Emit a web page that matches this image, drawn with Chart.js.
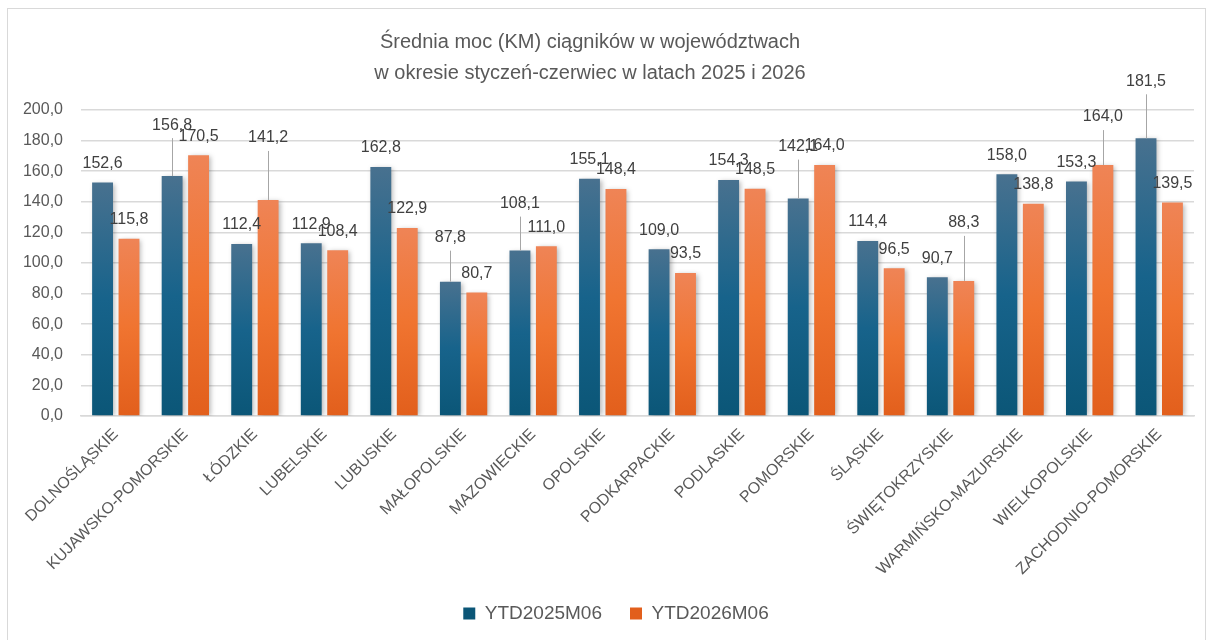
<!DOCTYPE html>
<html>
<head>
<meta charset="utf-8">
<script src="https://cdn.jsdelivr.net/npm/chart.js@4.4.1/dist/chart.umd.min.js"></script>
<style>
    html, body { margin: 0; padding: 0; background: #fff; }
    #frame { position: absolute; left: 7px; top: 8px; width: 1197px; height: 700px; border: 1.5px solid #d9d9d9; }
    #wrap { position: absolute; left: 0; top: 0; width: 1212px; height: 640px; }
</style>
</head>
<body>
<div id="frame"></div>
<div id="wrap"><canvas id="chart"></canvas></div>
<script>
const categories = ['DOLNOŚLĄSKIE', 'KUJAWSKO-POMORSKIE', 'ŁÓDZKIE', 'LUBELSKIE', 'LUBUSKIE', 'MAŁOPOLSKIE',
    'MAZOWIECKIE', 'OPOLSKIE', 'PODKARPACKIE', 'PODLASKIE', 'POMORSKIE', 'ŚLĄSKIE', 'ŚWIĘTOKRZYSKIE',
    'WARMIŃSKO-MAZURSKIE', 'WIELKOPOLSKIE', 'ZACHODNIO-POMORSKIE'];
const ytd2025 = [152.6, 156.8, 112.4, 112.9, 162.8, 87.8, 108.1, 155.1, 109.0, 154.3, 142.1, 114.4, 90.7, 158.0, 153.3, 181.5];
const ytd2026 = [115.8, 170.5, 141.2, 108.4, 122.9, 80.7, 111.0, 148.4, 93.5, 148.5, 164.0, 96.5, 88.3, 138.8, 164.0, 139.5];
const seriesNames = ['YTD2025M06', 'YTD2026M06'];
const titleLines = ['Średnia moc (KM) ciągników w województwach', 'w okresie styczeń-czerwiec w latach 2025 i 2026'];

// extra lift (px) for labels that Excel moved up with a leader line
const labelLift = [
    { 1: 32, 5: 25, 6: 28, 10: 33, 15: 38 },
    { 2: 43, 12: 39, 14: 29 }
];

const fmt = v => v.toFixed(1).replace('.', ',');

function barGradient(top, mid, bottom) {
    return ctx => {
        const chart = ctx.chart;
        const y = chart.scales.y;
        if (!y || ctx.type !== 'data' || !chart.chartArea) return mid;
        const yTop = y.getPixelForValue(ctx.raw);
        const yBase = y.getPixelForValue(0);
        if (!isFinite(yTop) || yTop === yBase) return mid;
        const g = chart.ctx.createLinearGradient(0, yTop, 0, yBase);
        g.addColorStop(0, top);
        g.addColorStop(0.5, mid);
        g.addColorStop(1, bottom);
        return g;
    };
}

const shadowPlugin = {
    id: 'barShadow',
    beforeDatasetsDraw(chart) {
        const c = chart.ctx;
        c.save();
        c.shadowColor = 'rgba(0,0,0,0.3)';
        c.shadowBlur = 5;
        c.shadowOffsetX = 2;
        c.shadowOffsetY = 1;
    },
    afterDatasetsDraw(chart) {
        chart.ctx.restore();
    }
};

const labelPlugin = {
    id: 'valueLabels',
    afterDraw(chart) {
        const c = chart.ctx;
        c.save();
        c.font = '16px "Liberation Sans", Arial, sans-serif';
        c.fillStyle = '#404040';
        c.textAlign = 'center';
        c.textBaseline = 'middle';
        chart.data.datasets.forEach((ds, di) => {
            const meta = chart.getDatasetMeta(di);
            meta.data.forEach((bar, i) => {
                const lift = labelLift[di][i] || 0;
                const ly = bar.y - 19 - lift;
                if (lift) {
                    c.strokeStyle = '#a6a6a6';
                    c.lineWidth = 1;
                    c.beginPath();
                    c.moveTo(Math.round(bar.x) + 0.5, bar.y);
                    c.lineTo(Math.round(bar.x) + 0.5, ly + 13);
                    c.stroke();
                }
                c.fillText(fmt(ds.data[i]), bar.x, ly);
            });
        });
        c.restore();
    }
};

const shiftPlugin = {
    id: 'shiftBoxes',
    afterLayout(chart) {
        chart.legend.left += 19;
        chart.legend.right += 19;
        chart.legend.top -= 5;
        chart.legend.bottom -= 5;
        chart.titleBlock.left -= 7;
        chart.titleBlock.right -= 7;
    }
};

new Chart(document.getElementById('chart'), {
    type: 'bar',
    data: {
        labels: categories,
        datasets: [{
            label: seriesNames[0],
            data: ytd2025,
            backgroundColor: barGradient('#48718f', '#17638b', '#0b5677'),
            categoryPercentage: 0.76,
            barPercentage: 0.79
        }, {
            label: seriesNames[1],
            data: ytd2026,
            backgroundColor: barGradient('#ef8456', '#f07430', '#e25f1c'),
            categoryPercentage: 0.76,
            barPercentage: 0.79
        }]
    },
    options: {
        responsive: true,
        maintainAspectRatio: false,
        animation: false,
        layout: { padding: { left: 0, right: 18, top: 0, bottom: 2 } },
        plugins: {
            tooltip: { enabled: false },
            title: {
                display: true,
                text: titleLines,
                color: '#595959',
                font: { family: '"Liberation Sans", Arial, sans-serif', size: 20, weight: 'normal', lineHeight: 1.55 },
                padding: { top: 27, bottom: 21 }
            },
            legend: {
                position: 'bottom',
                labels: {
                    boxWidth: 12,
                    boxHeight: 12,
                    padding: 28,
                    color: '#595959',
                    font: { family: '"Liberation Sans", Arial, sans-serif', size: 19 }
                }
            }
        },
        scales: {
            x: {
                grid: { display: false },
                border: { display: true, color: '#d9d9d9', width: 1.5 },
                ticks: {
                    minRotation: 45,
                    maxRotation: 45,
                    padding: 1,
                    color: '#595959',
                    font: { family: '"Liberation Sans", Arial, sans-serif', size: 16 }
                },
                afterFit(scale) { scale.height = 165; }
            },
            y: {
                min: 0,
                max: 200,
                ticks: {
                    stepSize: 20,
                    padding: 18,
                    color: '#595959',
                    font: { family: '"Liberation Sans", Arial, sans-serif', size: 16 },
                    callback: v => fmt(v)
                },
                grid: { color: '#d9d9d9', lineWidth: 1.5, drawTicks: false },
                border: { display: false },
                afterFit(scale) { scale.width = 81; }
            }
        }
    },
    plugins: [shadowPlugin, labelPlugin, shiftPlugin]
});
</script>
</body>
</html>
